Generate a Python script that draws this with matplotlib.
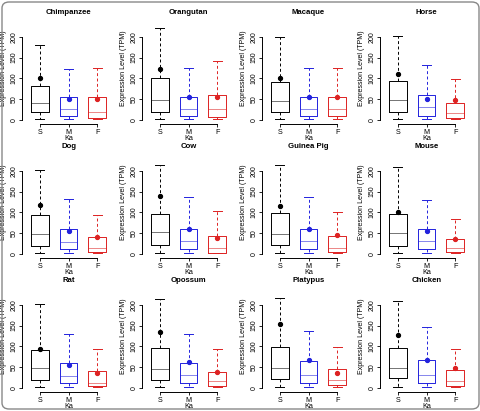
import matplotlib
matplotlib.use("Agg")
import matplotlib.pyplot as plt
from matplotlib.patches import FancyBboxPatch

plt.rcParams['font.family'] = ['Liberation Sans', 'DejaVu Sans']

species = ["Chimpanzee", "Orangutan", "Macaque", "Horse",
           "Dog", "Cow", "Guinea Pig", "Mouse",
           "Rat", "Opossum", "Platypus", "Chicken"]
groups = ["S", "M", "F"]
group_colors = ["#000000", "#2222DD", "#DD2222"]

# per species: [S, M, F], each (whislo, q1, median, q3, whishi, mean)
stats_S = [(2, 18, 40, 82, 180, 102), (3, 19, 48, 102, 222, 122), (3, 20, 46, 92, 200, 100),
           (2, 20, 47, 93, 202, 111), (2, 20, 47, 94, 202, 117), (2, 22, 52, 97, 213, 139),
           (2, 21, 49, 98, 215, 115), (2, 19, 50, 95, 210, 102), (2, 19, 48, 91, 201, 93),
           (2, 19, 45, 97, 215, 135), (1, 21, 49, 99, 217, 155), (1, 23, 49, 97, 209, 127)]
stats_M = [(1, 9, 26, 54, 122, 50), (1, 9, 26, 55, 124, 55), (1, 10, 27, 54, 124, 54),
           (1, 10, 30, 61, 132, 51), (1, 11, 28, 61, 132, 55), (1, 11, 30, 60, 136, 60),
           (1, 12, 30, 61, 136, 59), (1, 11, 30, 60, 131, 55), (1, 11, 29, 60, 131, 56),
           (1, 12, 30, 59, 131, 62), (1, 12, 31, 65, 138, 67), (1, 11, 30, 66, 147, 67)]
stats_F = [(1, 4, 18, 54, 124, 50), (1, 6, 25, 61, 142, 54), (1, 9, 26, 55, 124, 55),
           (1, 4, 16, 41, 98, 47), (1, 4, 13, 41, 94, 40), (1, 3, 14, 44, 104, 38),
           (1, 4, 14, 42, 100, 45), (1, 4, 14, 35, 83, 35), (1, 4, 12, 40, 93, 36),
           (1, 4, 16, 39, 94, 39), (1, 6, 19, 45, 99, 35), (1, 5, 17, 43, 93, 49)]
yticks = [0, 50, 100, 150, 200]

W, H = 481, 411
fig = plt.figure(figsize=(W / 100, H / 100), dpi=100)

col_off = [0, 120, 240, 358]
row_off = [0, 134, 268]
ax_left, ax_right = 22, 115
ax_top, ax_bottom = 12, 124

for i, name in enumerate(species):
    r, c = divmod(i, 4)
    x0 = col_off[c] + ax_left
    x1 = col_off[c] + ax_right
    yt = row_off[r] + ax_top
    yb = row_off[r] + ax_bottom
    ax = fig.add_axes([x0 / W, 1 - yb / H, (x1 - x0) / W, (yb - yt) / H])
    ax.patch.set_alpha(0)
    per = [stats_S[i], stats_M[i], stats_F[i]]
    for g, (st, col) in enumerate(zip(per, group_colors)):
        lo, q1, med, q3, hi, mean = st
        d = dict(whislo=lo, q1=q1, med=med, q3=q3, whishi=hi, fliers=[], mean=mean)
        ax.bxp([d], positions=[g + 1], widths=0.62, capwidths=0.3, showfliers=False,
               boxprops=dict(color=col, lw=0.7),
               whiskerprops=dict(color=col, lw=0.7, linestyle=(0, (3, 2.5))),
               capprops=dict(color=col, lw=0.7),
               medianprops=dict(color=col, lw=0.7, alpha=0.55))
        ax.plot([g + 1], [mean], 'o', color=col, ms=2.8, zorder=5)
    ax.set_xlim(0.38, 3.62)
    ax.set_ylim(-10, 260)
    for s in ['top', 'right']:
        ax.spines[s].set_visible(False)
    ax.spines['left'].set_bounds(0, 200)
    ax.spines['bottom'].set_bounds(1, 3)
    ax.spines['left'].set_linewidth(0.7)
    ax.spines['bottom'].set_linewidth(0.7)
    ax.set_yticks(yticks)
    ax.set_yticklabels([str(v) for v in yticks], rotation=90, va='center', fontsize=5)
    ax.set_xticks([1, 2, 3])
    ax.set_xticklabels(groups, fontsize=5.2)
    ax.tick_params(length=2.2, width=0.6, pad=1.2)
    ax.set_xlabel("Ka", fontsize=5.2, labelpad=-0.8)
    ax.set_ylabel("Expression Level (TPM)", fontsize=5)
    ax.yaxis.set_label_coords(-15 / 93, 0.5)
    ax.text(0.5, 1.0, name, transform=ax.transAxes, ha='center', va='center',
            fontsize=5.6, fontweight='bold')

border = FancyBboxPatch((2 / W, 2 / H), 1 - 4 / W, 1 - 4 / H,
                        boxstyle="round,pad=0,rounding_size=0.015",
                        transform=fig.transFigure, fill=False, ec='#888888', lw=1.0)
fig.patches.append(border)

fig.savefig("out.png", dpi=100)
